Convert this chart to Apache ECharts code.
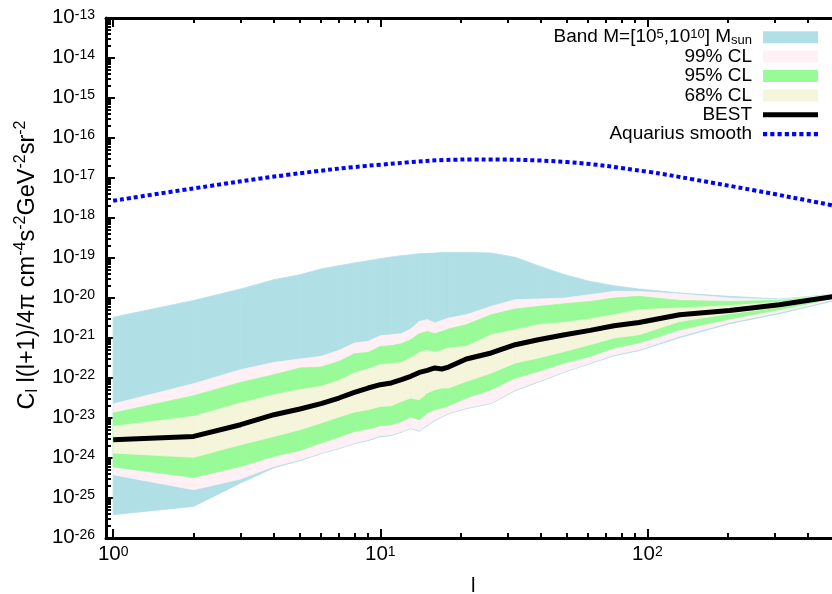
<!DOCTYPE html>
<html><head><meta charset="utf-8">
<script src="https://cdn.jsdelivr.net/npm/echarts@6/dist/echarts.min.js"></script>
<style>html,body{margin:0;padding:0;background:#fff}#c{width:832px;height:594px}</style>
</head><body><div id="c"></div>
<script>
// multipole l at which the bands were read
const ell = [1,2,3,4,5,6,7,8,9,10,11,12,13,14,15,16,17,18,21,26,32,39,49,61,75,93,132,203,312,500];
const blueUpper = [3.3e-21,8.7e-21,1.68e-20,2.87e-20,3.82e-20,5.31e-20,6.42e-20,7.5e-20,8.56e-20,9.6e-20,1.06e-19,1.14e-19,1.21e-19,1.28e-19,1.3e-19,1.33e-19,1.38e-19,1.38e-19,1.38e-19,1.33e-19,1.04e-19,6.42e-20,3.82e-20,2.6e-20,2.03e-20,1.68e-20,1.33e-20,1.1e-20,9.44e-21,1.24e-20];
const blueLower = [3.82e-26,6.17e-26,2.37e-25,5.72e-25,8.56e-25,1.28e-24,1.71e-24,2.28e-24,2.71e-24,3.41e-24,3.61e-24,4.42e-24,5.4e-24,4.68e-24,6.42e-24,8.56e-24,1.05e-23,1.28e-23,1.71e-23,2.28e-23,4.81e-23,7.85e-23,1.4e-22,2.28e-22,3.61e-22,4.81e-22,1.02e-21,2.28e-21,4.05e-21,8.56e-21];
const cl99Upper = [2.24e-23,7.2e-23,1.61e-22,2.45e-22,2.99e-22,3.47e-22,4.9e-22,7.5e-22,8.22e-22,1.14e-21,1.21e-21,1.28e-21,1.68e-21,2.6e-21,2.87e-21,2.37e-21,2.75e-21,3.16e-21,3.82e-21,6.17e-21,9.07e-21,9.44e-21,1e-20,1.21e-20,1.46e-20,1.46e-20,1.26e-20,1e-20,9.07e-21,1.21e-20];
const cl99Lower = [3.82e-25,1.61e-25,2.99e-25,6.17e-25,9.07e-25,1.33e-24,1.78e-24,2.37e-24,2.87e-24,3.61e-24,3.82e-24,4.62e-24,5.62e-24,4.9e-24,6.8e-24,9.07e-24,1.1e-23,1.33e-23,1.78e-23,2.37e-23,5.1e-23,8.22e-23,1.46e-22,2.37e-22,3.82e-22,5.1e-22,1.1e-21,2.45e-21,4.37e-21,9.07e-21];
const cl95Upper = [1.33e-23,3.61e-23,7.76e-23,1.21e-22,1.78e-22,1.88e-22,2.6e-22,4.05e-22,4.37e-22,6.17e-22,6.42e-22,7.2e-22,9.07e-22,1.28e-21,1.46e-21,1.28e-21,1.46e-21,1.68e-21,2.15e-21,3.82e-21,5.31e-21,6.17e-21,7.2e-21,8.22e-21,1e-20,1.1e-20,8.71e-21,8.22e-21,8.71e-21,1.17e-20];
const cl95Lower = [5.96e-25,3.27e-25,6.17e-25,1.1e-24,1.55e-24,2.37e-24,3.35e-24,4.62e-24,5.31e-24,6.42e-24,6.8e-24,8.22e-24,1.06e-23,9.07e-24,1.33e-23,1.61e-23,1.78e-23,2.03e-23,3.16e-23,5.1e-23,1e-22,1.46e-22,2.37e-22,3.47e-22,5.62e-22,7.5e-22,1.61e-21,2.99e-21,5.1e-21,9.89e-21];
const cl68Upper = [6.17e-24,1.1e-23,2.37e-23,3.82e-23,5.1e-23,6.17e-23,8.71e-23,1.33e-22,1.68e-22,2.15e-22,2.28e-22,2.45e-22,3.16e-22,4.37e-22,4.9e-22,4.37e-22,4.9e-22,5.62e-22,6.17e-22,1.21e-21,1.61e-21,2.15e-21,2.45e-21,2.99e-21,3.82e-21,5.1e-21,5.62e-21,6.42e-21,7.85e-21,1.14e-20];
const cl68Lower = [1.33e-24,1.04e-24,2.15e-24,3.47e-24,5.1e-24,7.5e-24,1.06e-23,1.41e-23,1.61e-23,1.95e-23,2.03e-23,2.6e-23,3.16e-23,2.87e-23,4.22e-23,5.1e-23,5.62e-23,5.62e-23,8.22e-23,1.33e-22,2.37e-22,3.16e-22,4.62e-22,6.8e-22,1e-21,1.21e-21,2.6e-21,4.05e-21,5.89e-21,1.05e-20];
const bestFit = [2.87e-24,3.47e-24,6.8e-24,1.21e-23,1.68e-23,2.28e-23,3.16e-23,4.37e-23,5.62e-23,6.8e-23,7.5e-23,9.07e-23,1.1e-22,1.38e-22,1.55e-22,1.78e-22,1.68e-22,1.88e-22,2.99e-22,4.22e-22,6.8e-22,9.07e-22,1.21e-21,1.55e-21,2.03e-21,2.45e-21,3.82e-21,4.9e-21,6.8e-21,1.1e-20];
// Aquarius smooth curve
const aqEll = [1,2,4.5,10,22,50,100,150,250,480,500];
const aqVal = [2.7e-18,5.5e-18,1.2e-17,2.15e-17,2.9e-17,2.5e-17,1.44e-17,9.1e-18,4.95e-18,2.15e-18,2.0e-18];
// ticks
const xMajor = [1,10,100];
const xMinor = [2,3,4,5,6,7,8,9,20,30,40,50,60,70,80,90,200,300,400,500,600,700,800,900];
const yMajor = [1e-26,1e-25,1e-24,1e-23,1e-22,1e-21,1e-20,1e-19,1e-18,1e-17,1e-16,1e-15,1e-14,1e-13];
const yMinorMult = [2,3,4,5,6,7,8,9];
const yMinor = [];
yMajor.slice(0,-1).forEach(d => yMinorMult.forEach(m => yMinor.push(m*d)));

const FONT = "'Liberation Sans', Arial, Helvetica, sans-serif";
const names = {
  band: 'Band M=[10^5,10^10] M_sun', c99: '99% CL', c95: '95% CL', c68: '68% CL', best: 'BEST', aq: 'Aquarius smooth'
};
const legendRich = {};
legendRich[names.band] = 'Band M=[10{sup|5},10{sup|10}] M{sub|sun}';

function bandSeries(name, lower, upper, color) {
  return {
    type: 'custom', name: name, xAxisIndex: 0, yAxisIndex: 0,
    itemStyle: {color: color},
    encode: {x: 0, y: [1, 2]},
    data: ell.map((l, i) => [l, lower[i], upper[i]]),
    renderItem: function (params, api) {
      const i = params.dataIndex;
      if (i >= ell.length - 1) return null;
      const pts = [
        api.coord([ell[i], lower[i]]), api.coord([ell[i+1], lower[i+1]]),
        api.coord([ell[i+1], upper[i+1]]), api.coord([ell[i], upper[i]])
      ];
      return {type: 'polygon', shape: {points: pts}, style: {fill: color, stroke: color, lineWidth: 0.8}};
    }
  };
}

const powLabel = v => '{b|10}{s|' + Math.round(Math.log10(v)) + '}';
const labelRich = {
  b: {fontFamily: FONT, fontSize: 20.5, lineHeight: 20, verticalAlign: 'bottom', color: '#000'},
  s: {fontFamily: FONT, fontSize: 14, lineHeight: 14, verticalAlign: 'top', padding: [0,0,12,0], color: '#000'}
};
const X0 = 0.94, X1 = 1000, Y0 = 1e-26, Y1 = 1e-13;
function xAx(pos, vals, len, major) {
  return {
    type: 'log', min: X0, max: X1, position: pos,
    axisLine: {show: major, lineStyle: {color: '#000', width: 3}},
    axisTick: {show: true, inside: true, length: len, customValues: vals, lineStyle: {color: '#000', width: 2}},
    axisLabel: (major && pos === 'bottom') ? {show: true, customValues: vals, formatter: powLabel, rich: labelRich, margin: 7} : {show: false},
    splitLine: {show: false}
  };
}
function yAx(vals, len, major) {
  return {
    type: 'log', min: Y0, max: Y1, position: 'left',
    axisLine: {show: major, lineStyle: {color: '#000', width: 3}},
    axisTick: {show: true, inside: true, length: len, customValues: vals, lineStyle: {color: '#000', width: 2}},
    axisLabel: major ? {show: true, customValues: vals, formatter: powLabel, rich: labelRich, margin: 11} : {show: false},
    splitLine: {show: false}
  };
}
const xAxes = [xAx('bottom', xMajor, 9, true), xAx('bottom', xMinor, 5, false), xAx('top', xMajor, 9, true), xAx('top', xMinor, 5, false)];
xAxes[0].name = 'l';
xAxes[0].nameLocation = 'middle';
xAxes[0].nameGap = 38;
xAxes[0].nameTextStyle = {fontFamily: FONT, fontSize: 20, color: '#000', padding: [0, 74, 0, 0]};
const yAxes = [yAx(yMajor, 9, true), yAx(yMinor, 5, false)];
yAxes[0].name = 'C{sub|l} l(l+1)/4π cm{sup|-4}s{sup|-2}GeV{sup|-2}sr{sup|-2}';
yAxes[0].nameLocation = 'middle';
yAxes[0].nameRotate = 90;
yAxes[0].nameGap = 64;
yAxes[0].nameTextStyle = {fontFamily: FONT, fontSize: 23.5, color: '#000', lineHeight: 28, padding: [0, 0, 0, 26],
  rich: {sub: {fontFamily: FONT, fontSize: 16, lineHeight: 16, verticalAlign: 'bottom', color: '#000'},
         sup: {fontFamily: FONT, fontSize: 16, lineHeight: 16, verticalAlign: 'top', color: '#000'}}};

const chart = echarts.init(document.getElementById('c'), null, {renderer: 'canvas'});
chart.setOption({
  animation: false,
  backgroundColor: '#fff',
  grid: {left: 106, top: 18, right: -82.5, bottom: 56, containLabel: false, outerBoundsMode: 'none'},
  xAxis: xAxes,
  yAxis: yAxes,
  legend: {
    orient: 'vertical', right: 14, top: 27.5, align: 'right', itemWidth: 55, itemHeight: 12, itemGap: 0, padding: 0,
    selectedMode: false,
    formatter: n => legendRich[n] || n,
    textStyle: {fontFamily: FONT, fontSize: 19, color: '#000', lineHeight: 19.4, padding: [0, 6, 0, 0],
      rich: {sup: {fontFamily: FONT, fontSize: 13, lineHeight: 13, verticalAlign: 'top', color: '#000'},
             sub: {fontFamily: FONT, fontSize: 13, lineHeight: 13, verticalAlign: 'bottom', color: '#000'}}},
    data: [
      {name: names.band, icon: 'rect'},
      {name: names.c99, icon: 'rect'},
      {name: names.c95, icon: 'rect'},
      {name: names.c68, icon: 'rect'},
      {name: names.best, icon: 'path://M0,0H55V5H0Z'},
      {name: names.aq, icon: 'path://M0,0h4v4h-4zM7,0h4v4h-4zM14,0h4v4h-4zM21,0h4v4h-4zM28,0h4v4h-4zM35,0h4v4h-4zM42,0h4v4h-4zM49,0h4v4h-4z'}
    ]
  },
  series: [
    bandSeries(names.band, blueLower, blueUpper, '#b0e0e6'),
    bandSeries(names.c99, cl99Lower, cl99Upper, '#fff0f5'),
    bandSeries(names.c95, cl95Lower, cl95Upper, '#98fb98'),
    bandSeries(names.c68, cl68Lower, cl68Upper, '#f5f5dc'),
    {type: 'line', name: names.best, data: ell.map((l, i) => [l, bestFit[i]]), symbol: 'none', showSymbol: false,
     color: '#000', lineStyle: {color: '#000', width: 5}, z: 3},
    {type: 'line', name: names.aq, data: aqEll.map((l, i) => [l, aqVal[i]]), symbol: 'none', showSymbol: false, smooth: 0.4,
     color: '#0000ff', lineStyle: {color: '#0000ff', width: 4, type: [4, 3]}, z: 3}
  ]
});
</script></body></html>
